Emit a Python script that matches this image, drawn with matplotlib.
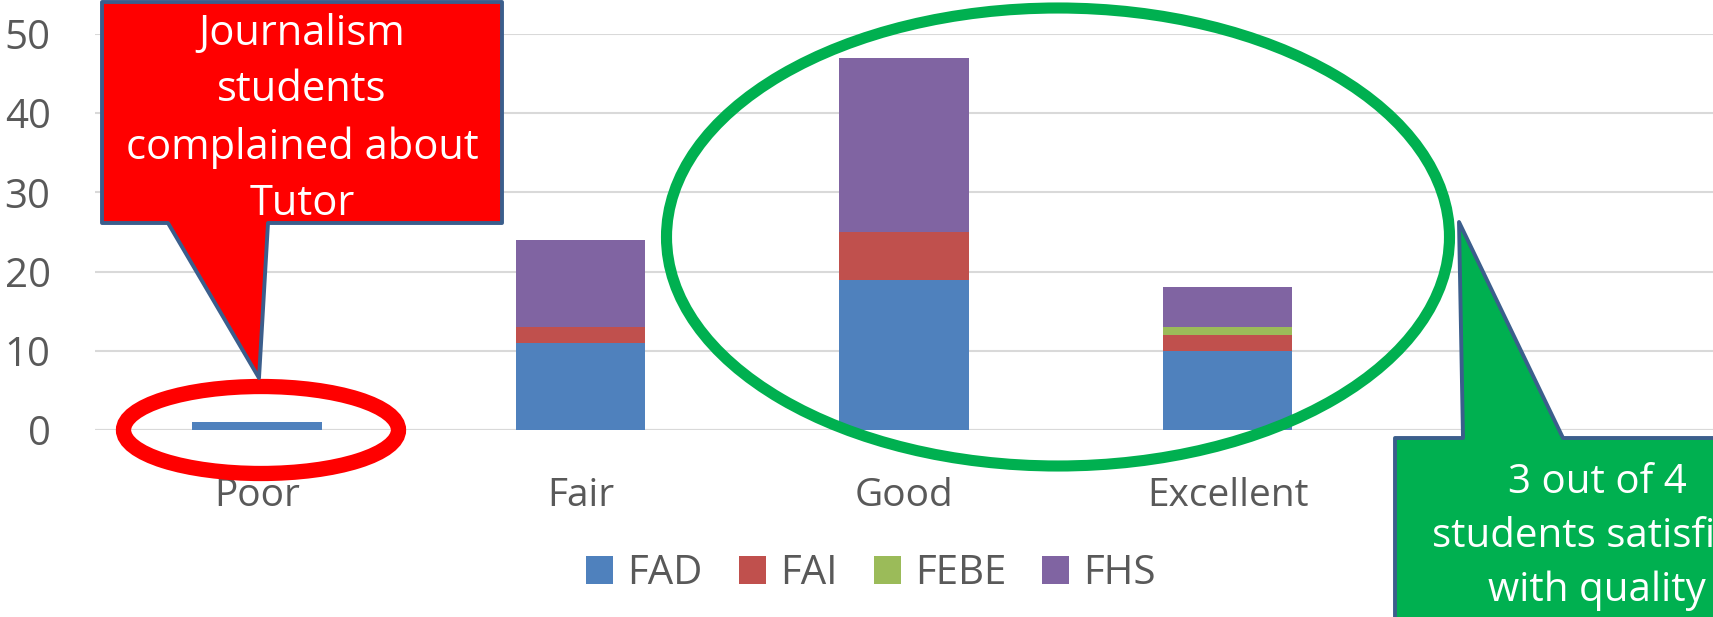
import numpy as np
import matplotlib.pyplot as plt
from matplotlib.patches import Polygon, Ellipse

# Data.
categories = ['Poor', 'Fair', 'Good', 'Excellent']
series = ['FAD', 'FAI', 'FEBE', 'FHS']
fad = [1, 11, 19, 10]
fai = [0, 2, 6, 2]
febe = [0, 0, 0, 1]
fhs = [0, 11, 22, 5]
colors = ['#4F81BD', '#C0504D', '#9BBB59', '#8064A2']

W, H = 1713, 617
plt.rcParams['font.family'] = ['Open Sans', 'DejaVu Sans']

fig = plt.figure(figsize=(W / 100, H / 100), dpi=100)
ax = fig.add_axes([95 / W, (H - 430) / H, (W - 95) / W, 396 / H])


# Pixel (top-left origin) to figure fraction.
def px(x, y):
    return (x / W, 1 - y / H)


x = np.arange(len(categories))
bottom = np.zeros(len(categories))
for name, vals, c in zip(series, [fad, fai, febe, fhs], colors):
    ax.bar(x, vals, 0.4, bottom=bottom, color=c, label=name, zorder=2)
    bottom += np.array(vals)

ax.set_xlim(-0.5, 4.5)
ax.set_ylim(0, 50)
ax.set_yticks(range(0, 51, 10))
ax.set_xticks(x)
ax.set_xticklabels(categories)
ax.grid(axis='y', color='#D9D9D9', linewidth=1.5, zorder=0)
ax.axhline(0, color='#D9D9D9', linewidth=1.5, zorder=1)
for s in ax.spines.values():
    s.set_visible(False)
ax.tick_params(axis='y', length=0, pad=32, labelsize=29, labelcolor='#595959')
ax.tick_params(axis='x', length=0, pad=34, labelsize=28, labelcolor='#595959')

leg = fig.legend(loc='center', bbox_to_anchor=px(871, 574), ncol=4, frameon=False,
                 fontsize=29, handlelength=0.67, handleheight=0.67,
                 handletextpad=0.35, columnspacing=0.9, labelcolor='#595959')

edge = '#3B5E8C'

# Red callout
red_pts = [(102, 2), (502, 2), (502, 223), (268, 223), (259, 378), (168, 223), (102, 223)]
fig.patches.append(Polygon([px(*p) for p in red_pts], closed=True, facecolor='#FF0000',
                           edgecolor=edge, linewidth=2.8, joinstyle='round',
                           transform=fig.transFigure, zorder=5))
fig.text(*px(302, 119), 'Journalism\nstudents\ncomplained about\nTutor', color='white',
         fontsize=30, ha='center', va='center', linespacing=1.45, zorder=6)

# Red ellipse
fig.patches.append(Ellipse(px(261, 430), 275 / W, 87 / H, fill=False, edgecolor='#FF0000',
                           linewidth=11, transform=fig.transFigure, zorder=4))

# Green ellipse
fig.patches.append(Ellipse(px(1058, 237), 783 / W, 458 / H, fill=False, edgecolor='#00B050',
                           linewidth=8, transform=fig.transFigure, zorder=4))

# Green callout (cut off by the right edge, as in the original)
green_pts = [(1395, 438), (1463, 438), (1459, 222), (1563, 438), (1730, 438), (1730, 640), (1395, 640)]
fig.patches.append(Polygon([px(*p) for p in green_pts], closed=True, facecolor='#00B050',
                           edgecolor=edge, linewidth=2.8, joinstyle='round',
                           transform=fig.transFigure, zorder=5))
fig.text(*px(1597, 537), '3 out of 4\nstudents satisfied\nwith quality', color='white',
         fontsize=29, ha='center', va='center', linespacing=1.45, zorder=6)

fig.savefig('out.png', dpi=100)
